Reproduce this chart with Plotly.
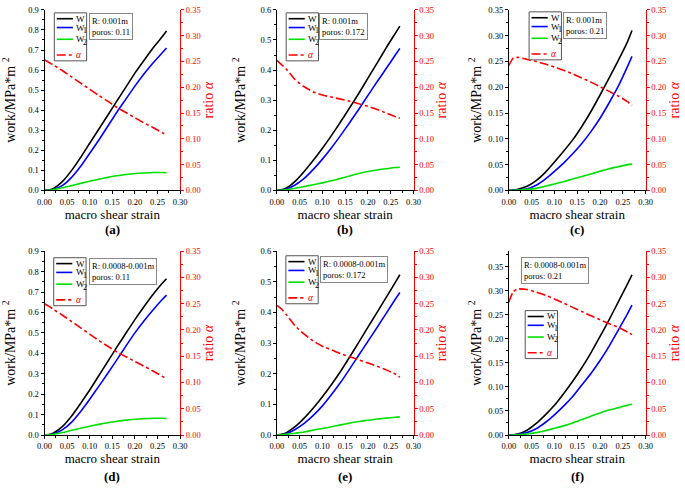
import plotly.graph_objects as go

# ---------------- data ----------------
strain = [0, 0.01, 0.02, 0.04, 0.06, 0.08, 0.10, 0.12, 0.14, 0.16, 0.18, 0.20, 0.22, 0.24, 0.26, 0.27]

W_a  = [0, 0.002, 0.010, 0.045, 0.100, 0.165, 0.235, 0.305, 0.375, 0.445, 0.515, 0.585, 0.648, 0.710, 0.765, 0.795]
W1_a = [0, 0.001, 0.005, 0.025, 0.065, 0.120, 0.185, 0.250, 0.320, 0.390, 0.455, 0.520, 0.580, 0.635, 0.685, 0.710]
W2_a = [0, 0.001, 0.004, 0.013, 0.024, 0.035, 0.046, 0.056, 0.065, 0.073, 0.079, 0.084, 0.087, 0.089, 0.089, 0.088]
A_a  = [0.253, 0.248, 0.243, 0.232, 0.220, 0.208, 0.196, 0.184, 0.173, 0.161, 0.151, 0.141, 0.131, 0.122, 0.112, 0.108]

W_b  = [0, 0.002, 0.007, 0.030, 0.063, 0.100, 0.140, 0.183, 0.228, 0.275, 0.323, 0.373, 0.423, 0.474, 0.522, 0.546]
W1_b = [0, 0.001, 0.004, 0.018, 0.040, 0.070, 0.104, 0.142, 0.183, 0.226, 0.270, 0.316, 0.361, 0.405, 0.450, 0.472]
W2_b = [0, 0.0005, 0.002, 0.007, 0.013, 0.019, 0.025, 0.032, 0.040, 0.048, 0.056, 0.063, 0.068, 0.072, 0.076, 0.077]
A_b  = [0.252, 0.244, 0.236, 0.215, 0.201, 0.191, 0.185, 0.181, 0.177, 0.173, 0.168, 0.163, 0.157, 0.150, 0.143, 0.140]

W_c  = [0, 0.0005, 0.002, 0.008, 0.019, 0.035, 0.055, 0.076, 0.098, 0.124, 0.153, 0.185, 0.218, 0.252, 0.288, 0.310]
W1_c = [0, 0.0002, 0.001, 0.003, 0.010, 0.022, 0.037, 0.053, 0.071, 0.091, 0.114, 0.140, 0.170, 0.202, 0.240, 0.260]
W2_c = [0, 0.0001, 0.0005, 0.002, 0.004, 0.008, 0.0125, 0.017, 0.022, 0.027, 0.032, 0.037, 0.042, 0.046, 0.050, 0.051]
A_c  = [0.242, 0.257, 0.258, 0.254, 0.250, 0.245, 0.239, 0.233, 0.226, 0.218, 0.210, 0.201, 0.192, 0.183, 0.172, 0.165]

W_d  = [0, 0.002, 0.010, 0.042, 0.093, 0.155, 0.220, 0.290, 0.360, 0.430, 0.498, 0.565, 0.628, 0.688, 0.742, 0.765]
W1_d = [0, 0.001, 0.005, 0.026, 0.063, 0.115, 0.175, 0.238, 0.302, 0.368, 0.435, 0.500, 0.558, 0.612, 0.662, 0.685]
W2_d = [0, 0.001, 0.004, 0.012, 0.023, 0.033, 0.043, 0.052, 0.060, 0.067, 0.073, 0.077, 0.080, 0.082, 0.082, 0.081]
A_d  = [0.250, 0.245, 0.239, 0.228, 0.216, 0.204, 0.192, 0.180, 0.169, 0.158, 0.149, 0.140, 0.131, 0.122, 0.112, 0.107]

W_e  = [0, 0.002, 0.007, 0.027, 0.055, 0.088, 0.125, 0.165, 0.208, 0.255, 0.303, 0.352, 0.400, 0.449, 0.498, 0.523]
W1_e = [0, 0.001, 0.004, 0.018, 0.038, 0.064, 0.095, 0.132, 0.172, 0.216, 0.261, 0.306, 0.351, 0.397, 0.443, 0.465]
W2_e = [0, 0.0005, 0.002, 0.006, 0.010, 0.016, 0.021, 0.027, 0.033, 0.039, 0.044, 0.048, 0.052, 0.055, 0.058, 0.059]
A_e  = [0.247, 0.240, 0.230, 0.208, 0.192, 0.179, 0.169, 0.162, 0.155, 0.149, 0.143, 0.137, 0.131, 0.124, 0.116, 0.110]

W_f  = [0, 0.0005, 0.002, 0.010, 0.024, 0.042, 0.062, 0.086, 0.112, 0.140, 0.171, 0.205, 0.240, 0.277, 0.314, 0.333]
W1_f = [0, 0.0002, 0.001, 0.005, 0.013, 0.026, 0.042, 0.060, 0.080, 0.104, 0.128, 0.155, 0.185, 0.218, 0.252, 0.270]
W2_f = [0, 0.0001, 0.0005, 0.002, 0.005, 0.009, 0.014, 0.019, 0.025, 0.032, 0.039, 0.046, 0.052, 0.057, 0.062, 0.064]
A_f  = [0.253, 0.273, 0.278, 0.277, 0.272, 0.266, 0.259, 0.251, 0.243, 0.235, 0.227, 0.2195, 0.212, 0.205, 0.196, 0.191]

panel_labels = ["(a)", "(b)", "(c)", "(d)", "(e)", "(f)"]
info_texts = ["R: 0.001m<br>poros: 0.11", "R: 0.001m<br>poros: 0.172", "R: 0.001m<br>poros: 0.21",
              "R: 0.0008-0.001m<br>poros: 0.11", "R: 0.0008-0.001m<br>poros: 0.172", "R: 0.0008-0.001m<br>poros: 0.21"]
work_series = [(W_a, W1_a, W2_a, A_a), (W_b, W1_b, W2_b, A_b), (W_c, W1_c, W2_c, A_c),
               (W_d, W1_d, W2_d, A_d), (W_e, W1_e, W2_e, A_e), (W_f, W1_f, W2_f, A_f)]
left_max = [0.9, 0.6, 0.35, 0.9, 0.6, 0.3825]
left_dtick = [0.1, 0.1, 0.05, 0.1, 0.1, 0.05]
left_fmt = [".1f", ".1f", ".2f", ".1f", ".1f", ".2f"]
series_names = ["W", "W1", "W2", "α"]
legend_main = ["W", "W", "W", "<i>α</i>"]
legend_sub = ["", "1", "2", ""]

# ---------------- layout geometry (pixels) ----------------
W_PX, H_PX = 685, 488
cols_px = [(38.3, 176.7), (275.5, 415.0), (512.3, 652.0)]
rows_px = [(5.0, 189.3), (251.3, 439.0)]
left_title_standoff = [11, 11, 3, 11, 11, 3]
legend_px = [(48.3, 8), (285, 8), (533, 7), (47.7, 258), (284.7, 256), (529, 312)]
legend_size = (33, 49)
legend_rows = [6, 15, 27, 43]
info_px = [(83.3, 8), (319, 8), (567.7, 7), (83.5, 258), (319.5, 256), (524.3, 257)]
label_y_px = [229, 481]

FONT = "Liberation Serif, Times New Roman, serif"
colors = ["black", "#0000ff", "#00e000", "red"]
dashes = ["solid", "solid", "solid", "dashdot"]

fig = go.Figure()
shapes = []

for i in range(6):
    r, c = divmod(i, 3)
    xa = "x" if i == 0 else f"x{i+1}"
    yl = 2 * i + 1
    yr = 2 * i + 2
    yl_ref = "y" if yl == 1 else f"y{yl}"
    yr_ref = f"y{yr}"
    data = work_series[i]
    for k in range(4):
        fig.add_trace(go.Scatter(
            x=strain, y=data[k], mode="lines", name=series_names[k],
            xaxis=xa, yaxis=yr_ref if k == 3 else yl_ref,
            line=dict(color=colors[k], width=1.6, shape="spline", smoothing=0.6, dash=dashes[k]),
            showlegend=False))

    x0, x1 = cols_px[c]
    t0, t1 = rows_px[r]
    xdom = [x0 / W_PX, x1 / W_PX]
    ydom = [1 - t1 / H_PX, 1 - t0 / H_PX]
    axis_common = dict(ticks="outside", ticklen=3, tickwidth=1, showline=True, linewidth=1,
                       showgrid=False, zeroline=False)
    xkey = "xaxis" if i == 0 else f"xaxis{i+1}"
    fig.layout[xkey] = dict(domain=xdom, anchor=yl_ref, range=[0, 0.30], dtick=0.05, tick0=0,
                            tickformat=".2f", linecolor="black", tickcolor="black",
                            tickfont=dict(family=FONT, size=8.5, color="black"),
                            minor=dict(dtick=0.025, ticks="outside", ticklen=2, tickcolor="black"),
                            title=dict(text="macro shear strain", font=dict(family=FONT, size=13, color="black"),
                                       standoff=2),
                            **axis_common)
    ylkey = "yaxis" if yl == 1 else f"yaxis{yl}"
    fig.layout[ylkey] = dict(domain=ydom, anchor=xa, range=[0, left_max[i]], dtick=left_dtick[i], tick0=0,
                             tickformat=left_fmt[i], linecolor="black", tickcolor="black",
                             tickfont=dict(family=FONT, size=8.5, color="black"),
                             minor=dict(dtick=left_dtick[i] / 2, ticks="outside", ticklen=2, tickcolor="black"),
                             title=dict(text="work/MPa*m <sup>2</sup>", font=dict(family=FONT, size=14, color="black"),
                                        standoff=left_title_standoff[i]),
                             **axis_common)
    fig.layout[f"yaxis{yr}"] = dict(domain=ydom, anchor=xa, overlaying=yl_ref, side="right",
                                    range=[0, 0.35], dtick=0.05, tick0=0, tickformat=".2f",
                                    linecolor="red", tickcolor="red",
                                    tickfont=dict(family=FONT, size=8.5, color="red"),
                                    minor=dict(dtick=0.025, ticks="outside", ticklen=2, tickcolor="red"),
                                    title=dict(text="ratio <i>α</i>", font=dict(family=FONT, size=14, color="red"),
                                               standoff=3),
                                    **axis_common)

    # legend box (key samples + labels)
    lx, ly = legend_px[i]
    lw, lh = legend_size
    shapes.append(dict(type="rect", xref="paper", yref="paper", layer="above",
                       x0=lx / W_PX, x1=(lx + lw) / W_PX, y0=1 - (ly + lh) / H_PX, y1=1 - ly / H_PX,
                       line=dict(color="#555555", width=1), fillcolor="white"))
    for k in range(4):
        yy = 1 - (ly + legend_rows[k]) / H_PX
        shapes.append(dict(type="line", xref="paper", yref="paper", layer="above",
                           x0=(lx + 2.5) / W_PX, x1=(lx + 19) / W_PX, y0=yy, y1=yy,
                           line=dict(color=colors[k], width=1.6, dash=dashes[k])))
        fig.add_annotation(xref="paper", yref="paper", x=(lx + 20.5) / W_PX, y=yy,
                           xanchor="left", yanchor="middle", text=legend_main[k], showarrow=False,
                           font=dict(family=FONT, size=9.5 if k == 3 else 9,
                                     color=colors[k] if k == 3 else "black"))
        if legend_sub[k]:
            fig.add_annotation(xref="paper", yref="paper", x=(lx + 27.5) / W_PX, y=yy - 3 / H_PX,
                               xanchor="left", yanchor="middle", text=legend_sub[k], showarrow=False,
                               font=dict(family=FONT, size=8, color="black"))

    ix, iy = info_px[i]
    fig.add_annotation(xref="paper", yref="paper", x=ix / W_PX, y=1 - iy / H_PX,
                       xanchor="left", yanchor="top", text=info_texts[i], showarrow=False,
                       align="left", font=dict(family=FONT, size=8.5, color="black"),
                       bordercolor="#888888", borderwidth=1, borderpad=2, bgcolor="white")
    fig.add_annotation(xref="paper", yref="paper", x=(x0 + x1) / 2 / W_PX, y=1 - label_y_px[r] / H_PX,
                       xanchor="center", yanchor="middle", text="<b>" + panel_labels[i] + "</b>",
                       showarrow=False, font=dict(family=FONT, size=13, color="black"))

fig.update_layout(width=W_PX, height=H_PX, margin=dict(l=0, r=0, t=0, b=0),
                  paper_bgcolor="white", plot_bgcolor="white", shapes=shapes,
                  showlegend=False, font=dict(family=FONT, color="black"))
fig.write_html("out.html", config={"displayModeBar": False},
               post_script="document.body.style.margin='0px';")
